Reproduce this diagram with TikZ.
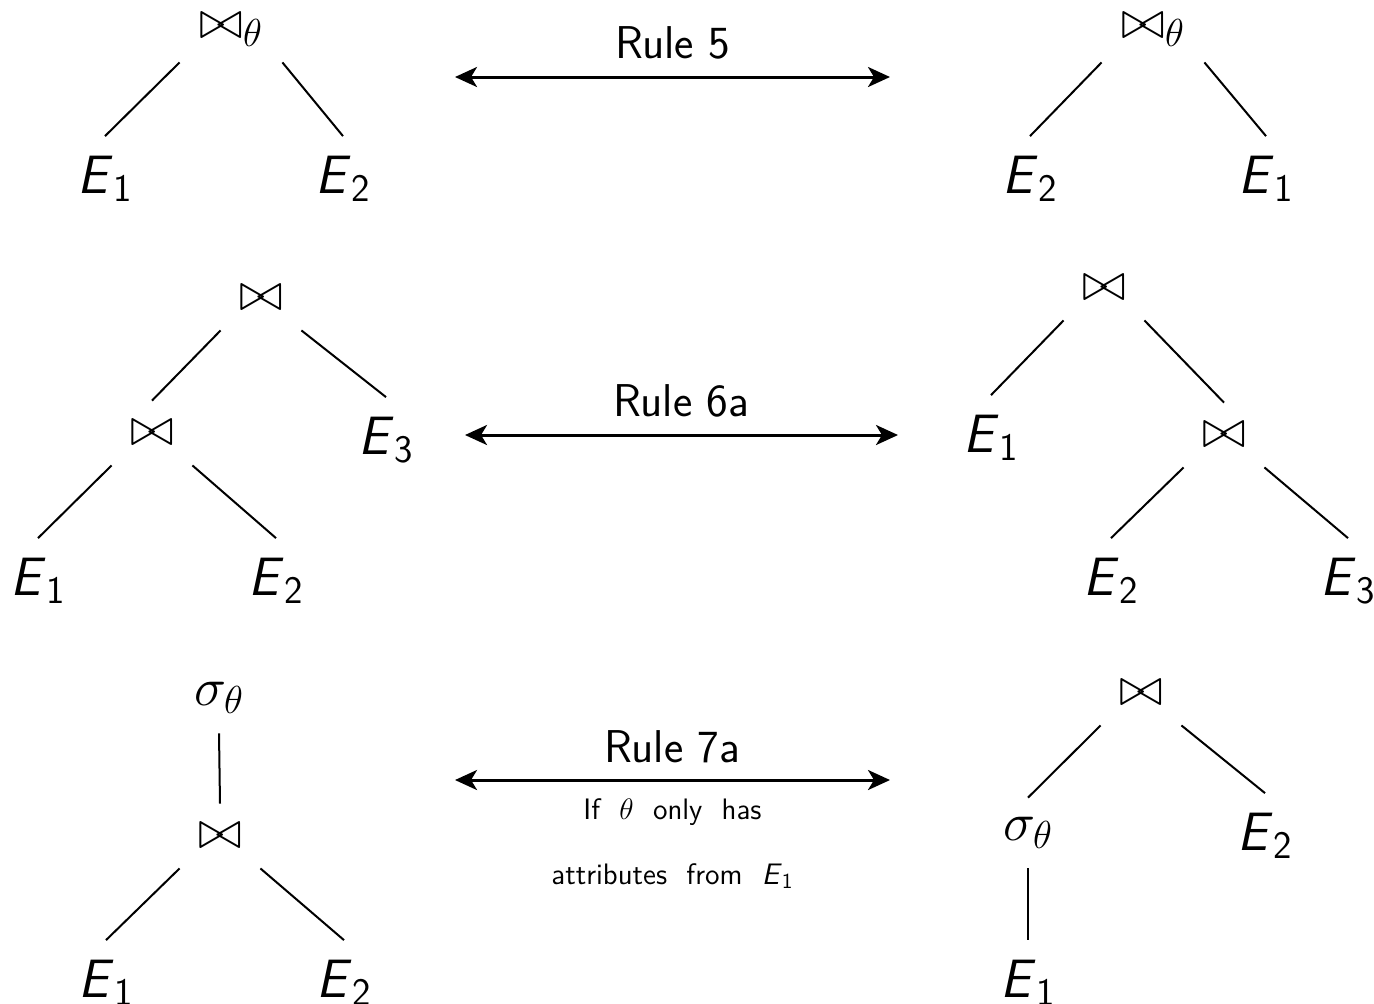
\RequirePackage{fix-cm}
\documentclass[tikz,border=0pt]{standalone}
\usepackage{amssymb}
\usepackage{tikz}
\usetikzlibrary{arrows.meta,positioning}
\DeclareMathSizes{27}{27}{19.5}{14}
\DeclareMathSizes{14.8}{14.8}{10.7}{7.4}
\newcommand{\Ex}[1]{\textsf{\slshape E}$_{\mathsf{#1}}$}

\begin{document}
\begin{tikzpicture}[
  x=0.5pt, y=-0.5pt,
  every node/.style={font=\fontsize{27}{32}\selectfont},
  opnode/.style={minimum width=40pt, minimum height=32pt, inner sep=0pt},
  optheta/.style={opnode, minimum width=51pt},
  selnode/.style={minimum height=35pt, inner sep=0pt},
  leaf/.style={minimum height=37.5pt, inner sep=0pt, text height=19pt, text depth=0pt},
  edge/.style={line width=1pt},
  rulearr/.style={{Stealth[length=11pt,width=10pt,inset=3pt]}-{Stealth[length=11pt,width=10pt,inset=3pt]}, line width=1.5pt},
  rulelbl/.style={above=8pt, inner sep=0pt, font=\fontsize{23}{27}\sffamily},
  condlbl/.style={below=10pt, inner sep=0pt, align=center, font=\fontsize{14.8}{32.5}\sffamily},
]
\useasboundingbox (0,0) rectangle (1374,1003);

% Rule 5
\node[optheta] (j1) at (231,30) {$\bowtie_\theta$};
\node[leaf] (a1) at (105,174) {\Ex{1}};
\node[leaf] (a2) at (343,174) {\Ex{2}};
\draw[edge] (j1.south west) -- (a1.north);
\draw[edge] (j1.south east) -- (a2.north);

\node[optheta] (j2) at (1153,30) {$\bowtie_\theta$};
\node[leaf] (b2) at (1030,174) {\Ex{2}};
\node[leaf] (b1) at (1266,174) {\Ex{1}};
\draw[edge] (j2.south west) -- (b2.north);
\draw[edge] (j2.south east) -- (b1.north);

\coordinate (r5l) at (455,77);
\coordinate (r5r) at (890,77);
\draw[rulearr] (r5l) -- node[rulelbl] (r5) {Rule 5} (r5r);

% Rule 6a
\node[opnode] (j3) at (261,298) {$\bowtie$};
\node[opnode] (j4) at (152,433) {$\bowtie$};
\node[leaf] (c3) at (386,435) {\Ex{3}};
\node[leaf] (c1) at (38,576) {\Ex{1}};
\node[leaf] (c2) at (276,576) {\Ex{2}};
\draw[edge] (j3.south west) -- (j4.north);
\draw[edge] (j3.south east) -- (c3.north);
\draw[edge] (j4.south west) -- (c1.north);
\draw[edge] (j4.south east) -- (c2.north);

\node[opnode] (j5) at (1104,288) {$\bowtie$};
\node[leaf] (d1) at (991,433) {\Ex{1}};
\node[opnode] (j6) at (1224,435) {$\bowtie$};
\node[leaf] (d2) at (1111,576) {\Ex{2}};
\node[leaf] (d3) at (1348,576) {\Ex{3}};
\draw[edge] (j5.south west) -- (d1.north);
\draw[edge] (j5.south east) -- (j6.north);
\draw[edge] (j6.south west) -- (d2.north);
\draw[edge] (j6.south east) -- (d3.north);

\coordinate (r6l) at (465,435);
\coordinate (r6r) at (898,435);
\draw[rulearr] (r6l) -- node[rulelbl] (r6) {Rule 6a} (r6r);

% Rule 7a
\node[selnode] (s1) at (219,698) {$\sigma_\theta$};
\node[opnode] (j7) at (220,836) {$\bowtie$};
\node[leaf] (e1) at (106,978) {\Ex{1}};
\node[leaf] (e2) at (344,978) {\Ex{2}};
\draw[edge] (s1.south) -- (j7.north);
\draw[edge] (j7.south west) -- (e1.north);
\draw[edge] (j7.south east) -- (e2.north);

\node[opnode] (j8) at (1141,693) {$\bowtie$};
\node[selnode] (s2) at (1028,833) {$\sigma_\theta$};
\node[leaf] (f2) at (1265,831) {\Ex{2}};
\node[leaf] (f1) at (1028,978) {\Ex{1}};
\draw[edge] (j8.south west) -- (s2.north);
\draw[edge] (j8.south east) -- (f2.north);
\draw[edge] (s2.south) -- (f1.north);

\coordinate (r7l) at (455,780);
\coordinate (r7r) at (890,780);
\draw[rulearr] (r7l) -- node[rulelbl] (r7) {Rule 7a} (r7r);
\node[condlbl, below=9pt of r7.south |- r7l] (cond)
  {If~~$\theta$~~only~~has\\attributes~~from~~\Ex{1}};

\end{tikzpicture}
\end{document}
